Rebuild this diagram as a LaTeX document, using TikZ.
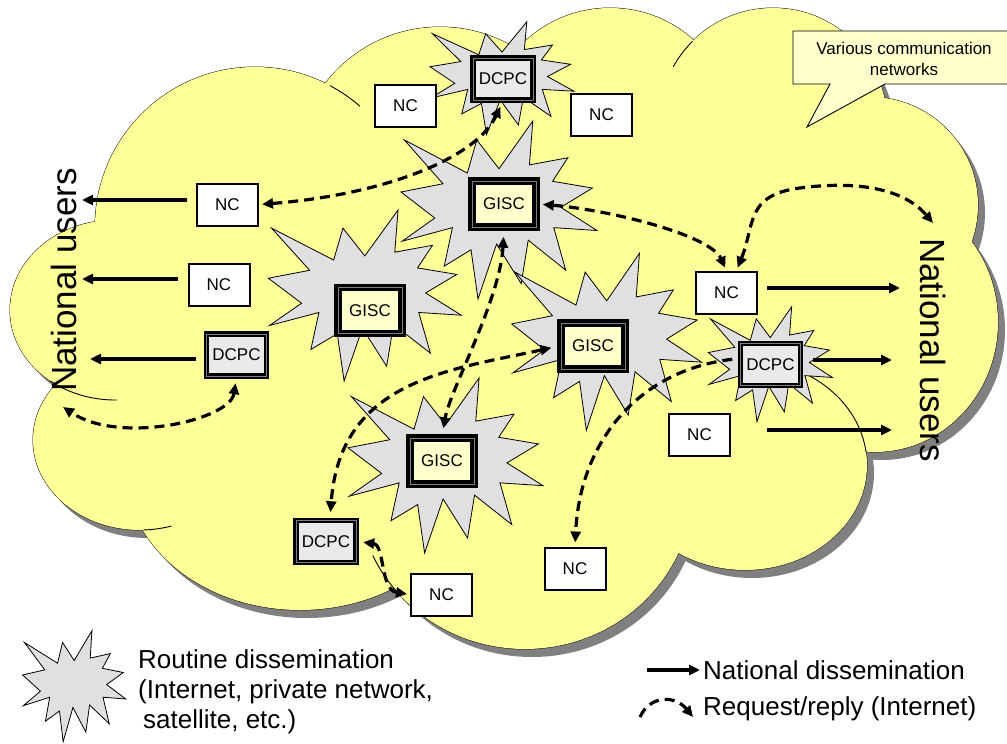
\documentclass[tikz,border=0pt]{standalone}
\usepackage{fontspec}
\setmainfont{Liberation Sans}
\usetikzlibrary{arrows.meta}
\definecolor{cloudy}{HTML}{FFFF99}
\definecolor{shadowg}{HTML}{808080}
\definecolor{starg}{HTML}{E0E0E0}
\definecolor{dcpcg}{HTML}{EAEAEA}
\definecolor{giscy}{HTML}{FFFFCC}
\definecolor{calloutfill}{HTML}{FFFFCC}

\newcommand{\wmosealpath}{(0.5,0.26852) -- (0.67231,0) -- (0.65532,0.24653) -- (0.85093,0.20634) -- (0.77324,0.33866) -- (0.97671,0.37671) -- (0.81514,0.48495) -- (1,0.61528) -- (0.77949,0.59917) -- (0.84005,0.83773) -- (0.64907,0.66931) -- (0.61329,0.91375) -- (0.48759,0.69144) -- (0.39282,1) -- (0.35718,0.72347) -- (0.22046,0.8156) -- (0.26236,0.59917) -- (0.00625,0.67532) -- (0.17231,0.54514) -- (0,0.39884) -- (0.21421,0.35264) -- (0.01713,0.10625) -- (0.33852,0.29259) -- (0.38667,0.10625) -- cycle}
\newcommand{\wmoseal}[4]{\begin{scope}[shift={(#1,#2)},xscale=#3,yscale=#4]\filldraw[sealstyle] \wmosealpath;\end{scope}}

\newcommand{\cloudlobes}[1]{%
  \path[#1] (255,227) ellipse [x radius=160,y radius=160];
  \path[#1] (440,172) ellipse [x radius=145,y radius=145];
  \path[#1] (610,133) ellipse [x radius=125,y radius=125];
  \path[#1] (773,122) ellipse [x radius=114,y radius=114];
  \path[#1] (870,205) ellipse [x radius=108,y radius=108];
  \path[#1] (875,322) ellipse [x radius=123,y radius=130];
  \path[#1] (745,465) ellipse [x radius=122,y radius=105];
  \path[#1] (525,487) ellipse [x radius=168,y radius=162];
  \path[#1] (300,470) ellipse [x radius=174,y radius=140];
  \path[#1] (140,440) ellipse [x radius=107,y radius=90];
  \path[#1] (115,310) ellipse [x radius=105,y radius=90];
}

\begin{document}
\begin{tikzpicture}[x=1pt,y=-1pt,
  boxfont/.style={font=\fontsize{17}{20}\selectfont},
  ncbox/.style={boxfont, draw=black, line width=2pt, fill=white, minimum width=61pt, minimum height=42pt, inner sep=0pt},
  dcpcbox/.style={boxfont, draw=black, line width=2.5pt, double=gray, double distance=0.8pt, fill=dcpcg, minimum width=60pt, minimum height=42pt, inner sep=0pt},
  giscbox/.style={boxfont, draw=black, line width=3.5pt, double=gray, double distance=0.8pt, fill=giscy, minimum width=64pt, minimum height=46pt, inner sep=0pt},
  sealstyle/.style={fill=starg, draw=black, line width=0.8pt, line join=miter},
  cloudline/.style={draw=black, line width=0.9pt},
  natarrow/.style={line width=3.2pt, -{Triangle[length=11pt,width=10pt]}},
  reqarrow/.style={line width=3.2pt, dash pattern=on 10pt off 6pt, {Triangle[length=11pt,width=10pt]}-{Triangle[length=11pt,width=10pt]}},
  reqone/.style={line width=3.2pt, dash pattern=on 10pt off 6pt, -{Triangle[length=11pt,width=10pt]}},
  usersfont/.style={font=\fontsize{35}{40}\selectfont},
  legfont/.style={font=\fontsize{26}{30}\selectfont},
]
\useasboundingbox (0,0) rectangle (1007,744);

% cloud: shadow, outline, fill
\begin{scope}[shift={(7,8)}]
  \cloudlobes{fill=shadowg}
\end{scope}
\cloudlobes{fill=cloudy, cloudline}
\cloudlobes{fill=cloudy}
\fill[cloudy] (520,330) ellipse [x radius=330,y radius=200];

% internal arcs of the cloud
\draw[cloudline] (255,227) ++(-62:160) arc[start angle=-62,end angle=-49,radius=160];
\draw[cloudline] (115,310) ++(89:105 and 90) arc[start angle=89,end angle=128,x radius=105,y radius=90];
\draw[cloudline] (140,440) ++(73:107 and 90) arc[start angle=73,end angle=88,x radius=107,y radius=90];
\draw[cloudline] (525,487) ++(140:168 and 162) arc[start angle=140,end angle=155,x radius=168,y radius=162];
\draw[cloudline] (745,465) ++(-75:122 and 105) arc[start angle=-75,end angle=-7,x radius=122,y radius=105];
\draw[cloudline] (773,122) ++(-151:114) arc[start angle=-151,end angle=-135,radius=114];

% callout
\filldraw[fill=calloutfill, draw=black, line width=0.9pt] (793,31) -- (1012,31) -- (1012,84) -- (885,84) -- (807,127) -- (830,84) -- (793,84) -- cycle;
\node[font=\fontsize{17}{21}\selectfont, align=center] (callout) at (904,59) {Various communication\\networks};

% explosion shapes
\wmoseal{430}{21.7}{144}{113}
\wmoseal{401}{121}{196}{178}
\wmoseal{268.3}{210}{193}{171}
\wmoseal{511.7}{253.3}{190}{177}
\wmoseal{348}{378}{195}{175}
\wmoseal{708.3}{306.7}{124}{115}

% centres
\node[ncbox] (NC1) at (405.5,106) {NC};
\node[ncbox] (NC2) at (601.5,115) {NC};
\node[ncbox] (NC3) at (227.5,204.5) {NC};
\node[ncbox] (NC4) at (219,284.5) {NC};
\node[ncbox] (NC5) at (726.5,292.5) {NC};
\node[ncbox] (NC6) at (699.5,434.5) {NC};
\node[ncbox] (NC7) at (575,568.5) {NC};
\node[ncbox] (NC8) at (441.5,594.5) {NC};
\node[dcpcbox] (DT) at (503,79) {DCPC};
\node[dcpcbox] (DL) at (236.5,355) {DCPC};
\node[dcpcbox] (DR) at (770.5,364.5) {DCPC};
\node[dcpcbox] (DB) at (326,541.5) {DCPC};
\node[giscbox] (GT) at (504,204) {GISC};
\node[giscbox] (GL) at (370,310.5) {GISC};
\node[giscbox] (GM) at (593,346) {GISC};
\node[giscbox] (GB) at (442,461) {GISC};

% national users
\node[usersfont, rotate=90] (usersL) at (64,280) {National users};
\node[usersfont, rotate=-90] (usersR) at (932.5,350) {National users};
\coordinate (uL1) at (82,200);
\coordinate (uL2) at (82,279);
\coordinate (uL3) at (90,359);
\coordinate (uR1) at (900,288);
\coordinate (uR2) at (892,360);
\coordinate (uR3) at (892,430);
\coordinate (uL) at (63,407);
\coordinate (uR) at (933,223);

% national dissemination
\draw[natarrow] ([shift={(-9,-4.5)}]NC3.west) -- (uL1);
\draw[natarrow] ([shift={(-9.5,-5.5)}]NC4.west) -- (uL2);
\draw[natarrow] ([shift={(-9.5,4)}]DL.west) -- (uL3);
\draw[natarrow] ([shift={(9,-4.5)}]NC5.east) -- (uR1);
\draw[natarrow] ([shift={(11,-4.5)}]DR.east) -- (uR2);
\draw[natarrow] ([shift={(36,-4.5)}]NC6.east) -- (uR3);

% request / reply
\draw[reqarrow, shorten <=3pt, shorten >=6pt] (NC3.east) .. controls (380,195) and (475,160) .. (DT.south);
\draw[reqarrow, shorten <=5pt, shorten >=3pt] (GT.east) .. controls (610,210) and (710,235) .. (NC5.north);
\draw[reqarrow, shorten <=3pt] ([xshift=10pt]NC5.north) .. controls (755,225) and (745,195) .. (800,188) .. controls (860,180) and (905,190) .. (uR);
\draw[reqarrow, shorten <=8pt, shorten >=8pt] (GT.south) .. controls (500,300) and (450,390) .. (GB.north);
\draw[reqarrow, shorten <=8pt, shorten >=7pt] (GM.west) .. controls (450,370) and (340,380) .. ([xshift=4pt]DB.north);
\draw[reqone, shorten <=7pt, shorten >=4pt] ([yshift=6pt]DR.west) .. controls (640,370) and (580,440) .. (NC7.north);
\draw[reqarrow, shorten <=6pt] (DL.south) .. controls (230,420) and (120,445) .. (uL);
\draw[reqarrow, shorten <=6pt, shorten >=3pt] (DB.east) .. controls (385,545) and (380,590) .. (NC8.west);

% legend
\wmoseal{22.7}{630.7}{103}{111}
\node[legfont, anchor=base west, inner sep=0pt] (leg1) at (138,668) {Routine dissemination};
\node[legfont, anchor=base west, inner sep=0pt] (leg2) at (138,698) {(Internet, private network,};
\node[legfont, anchor=base west, inner sep=0pt] (leg3) at (143,728) {satellite, etc.)};
\coordinate (lgA1) at (647,670);
\coordinate (lgA2) at (700,670);
\draw[natarrow] (lgA1) -- (lgA2);
\node[legfont, anchor=base west, inner sep=0pt] (leg4) at (703,679) {National dissemination};
\coordinate (lgB1) at (640,717);
\coordinate (lgB2) at (693,717);
\draw[reqone] (lgB1) .. controls (650,695) and (675,695) .. (lgB2);
\node[legfont, anchor=base west, inner sep=0pt] (leg5) at (703,715) {Request/reply (Internet)};
\end{tikzpicture}
\end{document}
